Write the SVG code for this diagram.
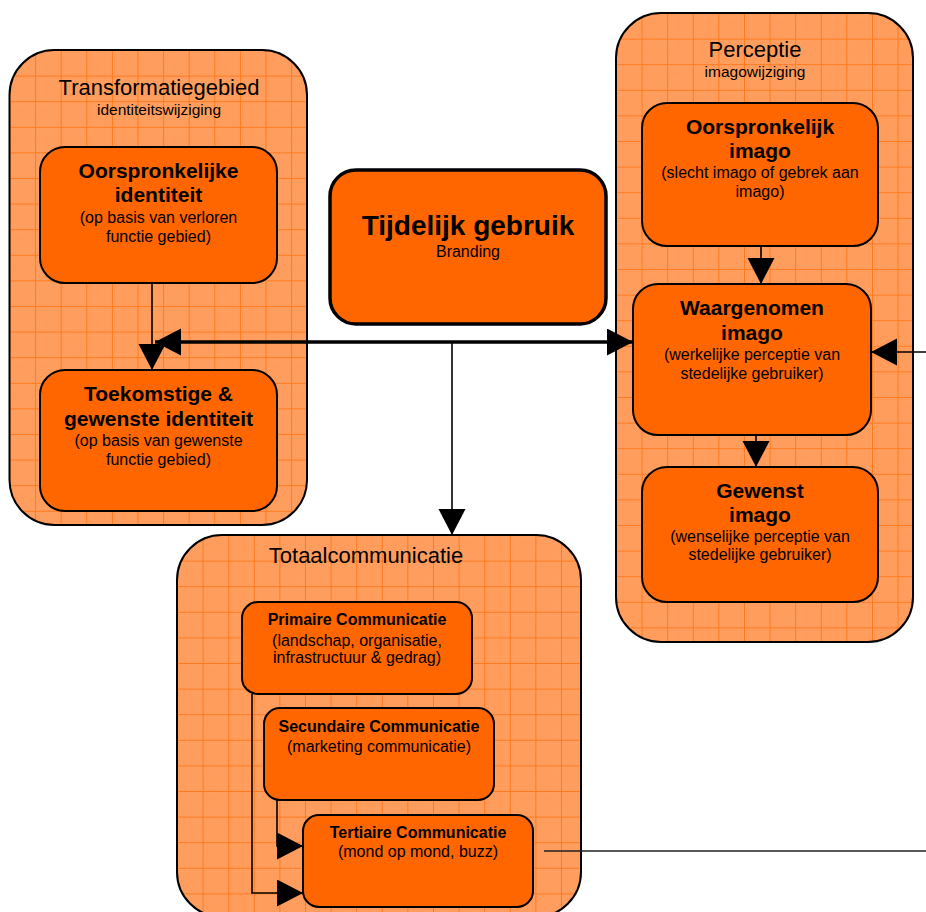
<svg xmlns="http://www.w3.org/2000/svg" xmlns:xlink="http://www.w3.org/1999/xlink" width="926" height="912" viewBox="0 0 926 912">
  <style>
    .container { stroke: #000; stroke-width: 2; }
    .node { fill: #FF6600; stroke: #000; stroke-width: 2; }
    .hub { fill: #FF6600; stroke: #000; stroke-width: 3.5; }
    text { font-family: "Liberation Sans", Arial, sans-serif; fill: #000; text-anchor: middle; }
    .title { font-size: 22px; }
    .subtitle { font-size: 15.5px; }
    .head { font-size: 21px; font-weight: bold; }
    .head-sm { font-size: 16px; font-weight: bold; }
    .note { font-size: 16px; }
    .big { font-size: 28px; font-weight: bold; }
    .link { fill: none; stroke: #000; stroke-width: 1.6; }
    .link-thick { fill: none; stroke: #000; stroke-width: 3.5; }
    .link-grey { fill: none; stroke: #222; stroke-width: 1.6; }
  </style>
  <defs>
    <!-- fine dither texture of the grid paper -->
    <pattern id="dither" width="2" height="2" patternUnits="userSpaceOnUse">
      <rect width="2" height="2" fill="#FFA468"/>
      <rect width="1" height="1" fill="#FF9450"/>
      <rect x="1" y="1" width="1" height="1" fill="#FF9A58"/>
    </pattern>
    <!-- one grid cell -->
    <g id="cell">
      <rect width="25.6" height="25.6" fill="url(#dither)"/>
      <path d="M0,0.5 H25.6 M0.5,0 V25.6" stroke="#FF7A1E" stroke-width="1" fill="none"/>
    </g>
    <pattern id="grid-left" x="9.5" y="50" width="25.6" height="25.6" patternUnits="userSpaceOnUse"><use xlink:href="#cell"/></pattern>
    <pattern id="grid-right" x="616" y="13" width="25.6" height="25.6" patternUnits="userSpaceOnUse"><use xlink:href="#cell"/></pattern>
    <pattern id="grid-bottom" x="177" y="535" width="25.6" height="25.6" patternUnits="userSpaceOnUse"><use xlink:href="#cell"/></pattern>
    <marker id="arrow" markerUnits="userSpaceOnUse" markerWidth="27" markerHeight="28" refX="26" refY="13.5" orient="auto-start-reverse" viewBox="0 0 27 28">
      <path d="M0,0 L26,13.5 L0,27 z" fill="#000"/>
    </marker>
  </defs>

  <rect width="926" height="912" fill="#FFFFFF"/>

  <!-- Transformatiegebied -->
  <g id="transformatiegebied">
    <rect class="container" x="9.5" y="50" width="297.5" height="475" rx="45" fill="url(#grid-left)"/>
    <text class="title" x="159" y="95">Transformatiegebied</text>
    <text class="subtitle" x="159" y="115">identiteitswijziging</text>
  </g>

  <!-- Perceptie -->
  <g id="perceptie">
    <rect class="container" x="616" y="13" width="297" height="629" rx="45" fill="url(#grid-right)"/>
    <text class="title" x="755" y="57">Perceptie</text>
    <text class="subtitle" x="755" y="77">imagowijziging</text>
  </g>

  <!-- Totaalcommunicatie -->
  <g id="totaalcommunicatie">
    <rect class="container" x="177" y="535" width="404" height="382" rx="45" fill="url(#grid-bottom)"/>
    <text class="title" x="366" y="563">Totaalcommunicatie</text>
  </g>

  <g id="oorspronkelijke-identiteit">
    <rect class="node" x="40" y="147" width="237" height="136" rx="25"/>
    <text class="head" x="158.5" y="178">Oorspronkelijke</text>
    <text class="head" x="158.5" y="202">identiteit</text>
    <text class="note" x="158.5" y="223">(op basis van verloren</text>
    <text class="note" x="158.5" y="242">functie gebied)</text>
  </g>

  <g id="toekomstige-identiteit">
    <rect class="node" x="40" y="370" width="237" height="141" rx="25"/>
    <text class="head" x="158.5" y="401">Toekomstige &amp;</text>
    <text class="head" x="158.5" y="426">gewenste identiteit</text>
    <text class="note" x="158.5" y="446">(op basis van gewenste</text>
    <text class="note" x="158.5" y="465">functie gebied)</text>
  </g>

  <g id="tijdelijk-gebruik">
    <rect class="hub" x="330" y="170" width="276" height="154" rx="26"/>
    <text class="big" x="468" y="235">Tijdelijk gebruik</text>
    <text class="note" x="468" y="257">Branding</text>
  </g>

  <g id="oorspronkelijk-imago">
    <rect class="node" x="642" y="103" width="236" height="143" rx="25"/>
    <text class="head" x="760" y="134">Oorspronkelijk</text>
    <text class="head" x="760" y="158">imago</text>
    <text class="note" x="760" y="178">(slecht imago of gebrek aan</text>
    <text class="note" x="760" y="197">imago)</text>
  </g>

  <g id="waargenomen-imago">
    <rect class="node" x="633" y="284" width="238" height="151" rx="25"/>
    <text class="head" x="752" y="315">Waargenomen</text>
    <text class="head" x="752" y="340">imago</text>
    <text class="note" x="752" y="360">(werkelijke perceptie van</text>
    <text class="note" x="752" y="379">stedelijke gebruiker)</text>
  </g>

  <g id="gewenst-imago">
    <rect class="node" x="642" y="467" width="236" height="135" rx="25"/>
    <text class="head" x="760" y="498">Gewenst</text>
    <text class="head" x="760" y="522">imago</text>
    <text class="note" x="760" y="542">(wenselijke perceptie van</text>
    <text class="note" x="760" y="560">stedelijke gebruiker)</text>
  </g>

  <g id="primaire-communicatie">
    <rect class="node" x="242" y="602" width="230" height="92" rx="16"/>
    <text class="head-sm" x="357" y="625">Primaire Communicatie</text>
    <text class="note" x="357" y="646">(landschap, organisatie,</text>
    <text class="note" x="357" y="663">infrastructuur &amp; gedrag)</text>
  </g>

  <g id="secundaire-communicatie">
    <rect class="node" x="264" y="708" width="230" height="92" rx="16"/>
    <text class="head-sm" x="379" y="732">Secundaire Communicatie</text>
    <text class="note" x="379" y="752">(marketing communicatie)</text>
  </g>

  <g id="tertiaire-communicatie">
    <rect class="node" x="303" y="815" width="230" height="92" rx="16"/>
    <text class="head-sm" x="418" y="838">Tertiaire Communicatie</text>
    <text class="note" x="418" y="857">(mond op mond, buzz)</text>
  </g>

  <!-- connectors -->
  <g id="connectors">
    <path class="link" d="M152,283 V370" marker-end="url(#arrow)"/>
    <path class="link-thick" d="M155,342 H633" marker-start="url(#arrow)" marker-end="url(#arrow)"/>
    <path class="link" d="M452,342 V535" marker-end="url(#arrow)"/>
    <path class="link" d="M761,246 V284" marker-end="url(#arrow)"/>
    <path class="link" d="M756,435 V467" marker-end="url(#arrow)"/>
    <path class="link" d="M926,352 H871" marker-end="url(#arrow)"/>
    <path class="link" d="M252,694 V893 H303" marker-end="url(#arrow)"/>
    <path class="link" d="M277,800 V846 H303" marker-end="url(#arrow)"/>
    <path class="link-grey" d="M544,851 H926"/>
  </g>
</svg>
